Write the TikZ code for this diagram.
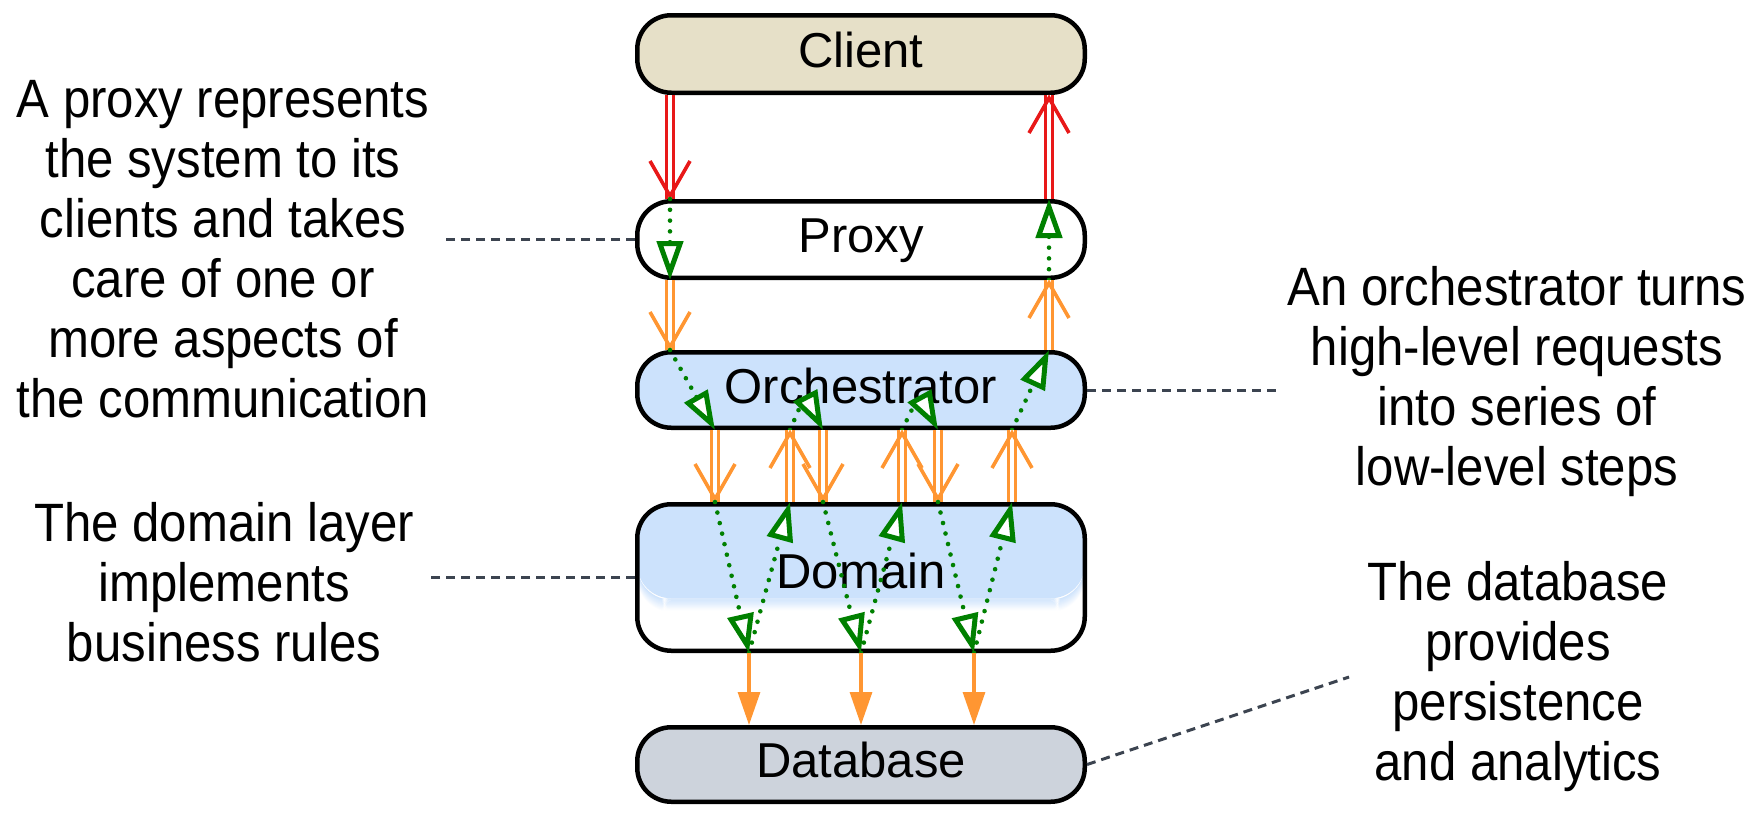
\documentclass[tikz,border=0pt]{standalone}
\usepackage{fontspec}
\setmainfont{Liberation Sans}
\newfontfamily\notefont{Liberation Sans}[FakeStretch=0.91]
\usetikzlibrary{arrows.meta,decorations.markings}
\definecolor{redc}{RGB}{232,24,24}
\definecolor{orangec}{RGB}{255,150,50}
\definecolor{greenc}{RGB}{0,128,0}
\definecolor{notegray}{RGB}{60,68,80}
\definecolor{clientfill}{RGB}{230,224,200}
\definecolor{bluefill}{RGB}{204,226,252}
\definecolor{dbfill}{RGB}{205,211,220}
\begin{document}
\begin{tikzpicture}[x=0.5pt, y=-0.5pt,
  box/.style={draw=black, line width=2.25pt, rounded corners=17pt, minimum width=223.75pt, inner sep=0pt,
    font=\fontsize{24.5pt}{29pt}\selectfont, text height=18pt, text depth=5pt},
  note/.style={align=center, inner sep=0pt, font=\notefont\fontsize{27pt}{30pt}\selectfont},
  link/.style={draw=notegray, line width=1.5pt, dash pattern=on 4.5pt off 3pt},
  dblarrow/.style={preaction={draw=#1, line width=1.6pt, double=white, double distance=1.6pt},
    postaction={decorate, decoration={markings, mark=at position 1 with {\draw[#1, line width=1.8pt, line join=miter] (-19pt,10pt) -- (-1.5pt,0pt) -- (-19pt,-10pt);}}}},
  gdot/.style={draw=greenc, line width=2.3pt, line cap=round, dash pattern=on 0pt off 5.4pt,
    -{Triangle[length=19.5pt, width=13pt, line width=2.5pt, fill=white]}},
  oarrow/.style={draw=orangec, line width=1.6pt, -{Triangle[length=16.5pt, width=11pt]}}
]
\useasboundingbox (0,0) rectangle (1763,819);

% boxes
\node[box, fill=clientfill, minimum height=38.75pt] (client) at (861,54) {Client};
\node[box, fill=white, minimum height=38.25pt] (proxy) at (861,239.5) {Proxy};
\node[box, fill=bluefill, minimum height=37.75pt] (orch) at (861,390) {Orchestrator};
\node[box, fill=white, minimum height=73.25pt,
  path picture={
    \fill[bluefill] (path picture bounding box.north west) rectangle ([yshift=-47pt]path picture bounding box.north east);
    \foreach \i in {0,...,11}{
      \pgfmathsetmacro\pct{100-(\i+1)*100/12}
      \fill[bluefill!\pct!white] ([yshift={-47pt-\i*0.55pt}]path picture bounding box.north west) rectangle ([yshift={-47.7pt-\i*0.55pt}]path picture bounding box.north east);
    }
  }] (domain) at (861,577.5) {};
\node[font=\fontsize{24.5pt}{29pt}\selectfont, text height=18pt, text depth=5pt, inner sep=0pt] (domainlabel) at (861,575) {Domain};
\node[box, fill=dbfill, minimum height=37.25pt] (database) at (861,764.5) {Database};

% annotations
\node[note] (proxynote) at (223,249) {A proxy represents\\the system to its\\clients and takes\\care of one or\\more aspects of\\the communication};
\node[note] (orchnote) at (1517,382) {An orchestrator turns\\high-level requests\\into series of\\low-level steps};
\node[note] (domainnote) at (224,582) {The domain layer\\implements\\business rules};
\node[note] (dbnote) at (1518,677) {The database\\provides\\persistence\\and analytics};
\coordinate (dbnoteend) at (1349,677);

\draw[link] (proxy.west) -- ([xshift=8pt]proxynote.east |- proxy.west);
\draw[link] (orch.east) -- ([xshift=-4.5pt]orchnote.west |- orch.east);
\draw[link] (domain.west) -- ([xshift=7.5pt]domainnote.east |- domain.west);
\draw[link] (database.east) -- (dbnoteend);

% columns
\coordinate (cL) at (670,0);
\coordinate (c2) at (715,0);
\coordinate (c3) at (749,0);
\coordinate (c4) at (790,0);
\coordinate (c5) at (823,0);
\coordinate (c6) at (861,0);
\coordinate (c7) at (902,0);
\coordinate (c8) at (938,0);
\coordinate (c9) at (974,0);
\coordinate (c10) at (1012,0);
\coordinate (cR) at (1049,0);
\coordinate (pk1) at (805,395);
\coordinate (pk2) at (919,395);

% client <-> proxy
\path[dblarrow=redc] (client.south -| cL) -- (proxy.north -| cL);
\path[dblarrow=redc] (proxy.north -| cR) -- (client.south -| cR);
\draw[gdot] (proxy.north -| cL) -- (proxy.south -| cL);
\draw[gdot] (proxy.south -| cR) -- (proxy.north -| cR);

% proxy <-> orchestrator
\path[dblarrow=orangec] (proxy.south -| cL) -- (orch.north -| cL);
\path[dblarrow=orangec] (orch.north -| cR) -- (proxy.south -| cR);
\draw[gdot] (orch.north -| cL) -- (orch.south -| c2);
\draw[gdot] (orch.south -| c4) -- (pk1) -- (orch.south -| c5);
\draw[gdot] (orch.south -| c7) -- (pk2) -- (orch.south -| c8);
\draw[gdot] (orch.south -| c10) -- (orch.north -| cR);

% orchestrator <-> domain
\path[dblarrow=orangec] (orch.south -| c2) -- (domain.north -| c2);
\path[dblarrow=orangec] (domain.north -| c4) -- (orch.south -| c4);
\path[dblarrow=orangec] (orch.south -| c5) -- (domain.north -| c5);
\path[dblarrow=orangec] (domain.north -| c7) -- (orch.south -| c7);
\path[dblarrow=orangec] (orch.south -| c8) -- (domain.north -| c8);
\path[dblarrow=orangec] (domain.north -| c10) -- (orch.south -| c10);

\draw[gdot] (domain.north -| c2) -- (domain.south -| c3);
\draw[gdot] (domain.south -| c3) -- (domain.north -| c4);
\draw[gdot] (domain.north -| c5) -- (domain.south -| c6);
\draw[gdot] (domain.south -| c6) -- (domain.north -| c7);
\draw[gdot] (domain.north -| c8) -- (domain.south -| c9);
\draw[gdot] (domain.south -| c9) -- (domain.north -| c10);

% domain -> database
\draw[oarrow] (domain.south -| c3) -- (database.north -| c3);
\draw[oarrow] (domain.south -| c6) -- (database.north -| c6);
\draw[oarrow] (domain.south -| c9) -- (database.north -| c9);
\end{tikzpicture}
\end{document}
